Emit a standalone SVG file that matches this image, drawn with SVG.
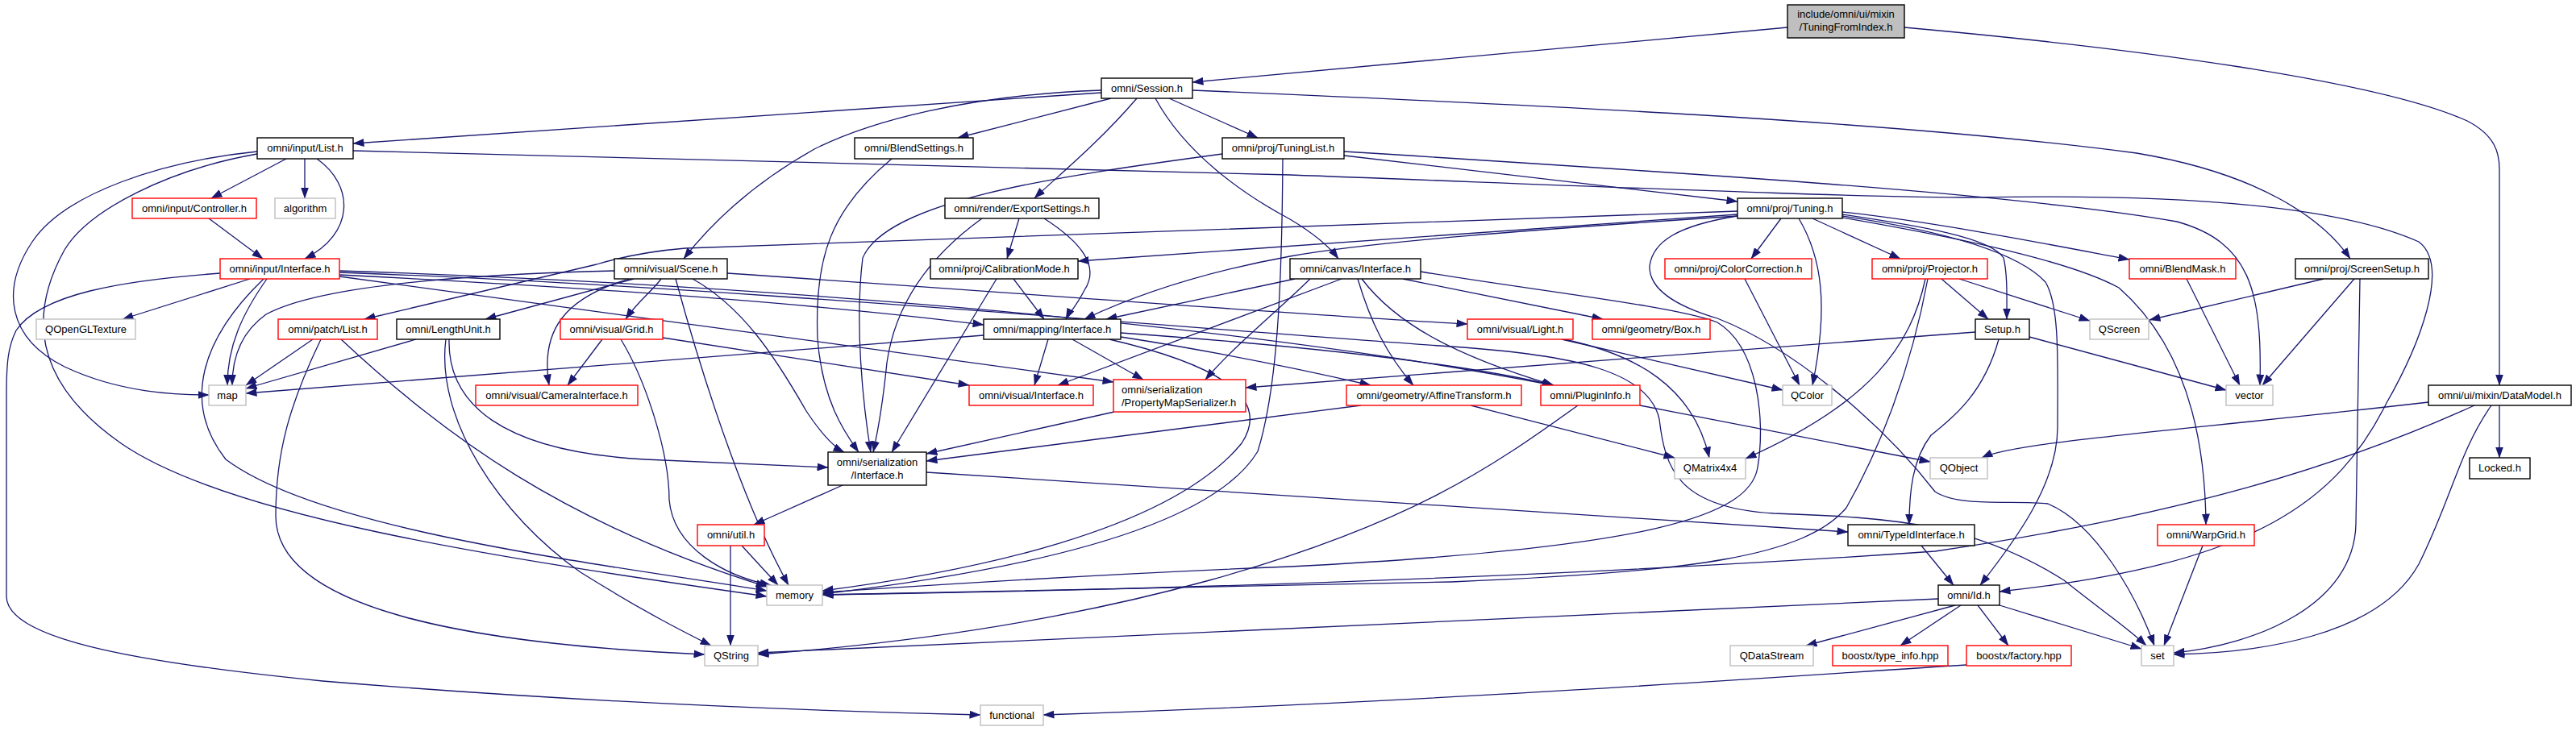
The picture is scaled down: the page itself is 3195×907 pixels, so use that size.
<svg xmlns="http://www.w3.org/2000/svg" width="3195" height="907" viewBox="0 0 3195 907">
<style>
rect{fill:#ffffff;stroke-width:1.4}
.n rect{stroke:#000000}
.r rect{stroke:#ff0000}
.g rect{stroke:#bfbfbf}
.top rect{stroke:#000000;fill:#bfbfbf}
text{font-family:"Liberation Sans",Arial,sans-serif;font-size:13px;fill:#000000;text-anchor:middle}
.lt{text-anchor:start}
#edges path{fill:none;stroke:#191970;stroke-width:1.3;marker-end:url(#arr)}
</style>
<defs>
<marker id="arr" markerUnits="userSpaceOnUse" markerWidth="14" markerHeight="10" refX="13.5" refY="5" orient="auto">
<path d="M0,0 L14,5 L0,10 z" fill="#191970"/>
</marker>
</defs>
<rect x="0" y="0" width="3195" height="907" style="fill:#ffffff;stroke:none"/>
<g id="edges">
<path d="M2217,34 L1479,102"/>
<path d="M2362,34 C2650,60 2950,100 3060,150 C3095,168 3100,190 3100,210 L3100,478"/>
<path d="M1366,115 L438,178"/>
<path d="M1378,122 L1188,171"/>
<path d="M1450,122 L1560,171"/>
<path d="M1410,122 C1360,180 1310,220 1283,246"/>
<path d="M1366,112 C1200,118 1080,150 1010,185 C930,230 880,280 848,321"/>
<path d="M1433,122 C1470,190 1540,240 1600,272 C1630,290 1648,305 1660,321"/>
<path d="M1479,112 C1900,130 2350,150 2650,190 C2800,215 2880,270 2915,321"/>
<path d="M355,197 L262,246"/>
<path d="M378,197 L378,246"/>
<path d="M393,197 C440,230 440,290 378,321"/>
<path d="M259,271 L326,321"/>
<path d="M319,188 C200,200 80,240 40,300 C0,360 10,420 80,455 C150,488 220,490 259,490"/>
<path d="M319,191 C210,210 110,260 80,310 C30,400 50,480 150,550 C280,640 600,690 951,740"/>
<path d="M273,339 C150,348 50,365 20,410 C10,430 8,450 8,490 L8,740 C8,790 150,820 400,845 C700,870 1000,882 1216,887"/>
<path d="M310,346 L152,396"/>
<path d="M331,346 C300,390 282,430 282,478"/>
<path d="M327,346 C250,420 225,500 280,570 C400,660 750,700 951,733"/>
<path d="M421,341 C700,355 1000,375 1220,403"/>
<path d="M421,343 L1381,474"/>
<path d="M421,336 C900,352 1500,395 1926,478"/>
<path d="M421,338 C900,355 1500,410 1800,430 C1950,440 2045,460 2058,520 C2065,580 2080,630 2200,637 C2350,642 2450,650 2560,720 C2610,760 2640,780 2662,801"/>
<path d="M2155,268 C2080,280 2050,300 2046,330 C2045,360 2080,380 2130,395 C2220,430 2330,520 2400,610 C2430,630 2500,620 2540,625 C2600,650 2650,740 2672,801"/>
<path d="M1762,337 C1900,360 2080,380 2130,400 C2180,430 2190,520 2180,580 C2170,640 2050,680 1600,703 C1300,715 1100,730 1020,735"/>
<path d="M1606,346 L1372,396"/>
<path d="M1664,346 L1312,478"/>
<path d="M1625,346 C1580,390 1530,430 1495,471"/>
<path d="M1684,346 C1700,400 1720,440 1753,478"/>
<path d="M1689,346 C1730,400 1800,440 1927,478"/>
<path d="M1740,346 L1988,396"/>
<path d="M1937,421 L2211,484"/>
<path d="M1940,421 C2030,440 2100,480 2120,568"/>
<path d="M2164,346 L2232,478"/>
<path d="M2231,271 C2260,320 2268,380 2248,478"/>
<path d="M2209,271 L2172,321"/>
<path d="M2248,271 L2357,321"/>
<path d="M2285,263 C2400,275 2550,305 2641,322"/>
<path d="M2285,266 C2380,280 2470,295 2485,320 C2490,340 2489,370 2489,396"/>
<path d="M2285,268 C2400,285 2500,310 2537,350 C2555,380 2552,450 2552,530 C2552,600 2500,670 2456,726"/>
<path d="M2285,270 C2400,290 2560,320 2628,357 C2700,420 2735,520 2736,651"/>
<path d="M2155,266 L1337,324"/>
<path d="M2155,268 C1900,285 1700,300 1600,318 C1480,340 1400,370 1345,396"/>
<path d="M2155,262 L850,308 Q790,313 740,328 L452,396"/>
<path d="M762,336 C600,340 400,352 330,390 C295,415 288,450 288,478"/>
<path d="M786,346 L602,396"/>
<path d="M820,346 C810,360 790,375 776,396"/>
<path d="M780,346 C700,370 670,410 681,478"/>
<path d="M859,346 C920,380 960,440 1000,510 C1020,540 1035,555 1047,561"/>
<path d="M838,346 C880,500 930,640 978,726"/>
<path d="M902,339 C1300,366 1600,390 1820,402"/>
<path d="M822,419 L1202,478"/>
<path d="M747,421 L704,478"/>
<path d="M770,421 C800,470 830,560 830,620 C835,680 900,715 956,726"/>
<path d="M516,421 L305,482"/>
<path d="M553,421 C540,520 620,640 720,710 C800,760 850,785 882,801"/>
<path d="M557,421 C555,500 620,560 800,570 C900,575 980,578 1027,580"/>
<path d="M388,421 L305,478"/>
<path d="M398,421 C360,500 342,560 342,640 C342,760 600,800 874,812"/>
<path d="M423,421 C550,540 700,650 951,728"/>
<path d="M1300,421 L1283,478"/>
<path d="M1330,421 L1418,471"/>
<path d="M1220,416 L305,488"/>
<path d="M1376,421 C1500,450 1580,490 1540,550 C1450,660 1200,710 1020,733"/>
<path d="M1390,418 C1500,435 1600,455 1700,478"/>
<path d="M1390,413 C1600,428 1800,448 1927,478"/>
<path d="M1264,271 L1249,321"/>
<path d="M1295,271 C1340,300 1365,330 1345,360 C1335,380 1325,390 1322,396"/>
<path d="M1218,271 C1150,320 1110,380 1100,450 C1095,500 1090,530 1083,561"/>
<path d="M1257,346 L1295,396"/>
<path d="M1236,346 L1106,561"/>
<path d="M1106,197 C1030,260 1010,320 1014,420 C1020,500 1050,540 1065,561"/>
<path d="M1516,191 C1300,220 1100,250 1070,320 C1060,400 1070,500 1080,561"/>
<path d="M1667,193 L2155,250"/>
<path d="M1667,188 C2100,215 2500,240 2700,275 C2790,300 2806,360 2803,478"/>
<path d="M1591,197 C1590,350 1585,480 1560,560 C1500,660 1250,710 1020,737"/>
<path d="M438,187 L1600,217 C2000,232 2300,245 2450,245 C2700,240 2900,255 3000,300 C3040,330 3000,430 2960,500 C2900,620 2800,700 2480,734"/>
<path d="M2882,346 L2666,397"/>
<path d="M2920,346 L2806,478"/>
<path d="M2927,346 L2922,650 C2920,750 2800,800 2696,810"/>
<path d="M2712,346 L2778,478"/>
<path d="M2517,418 L2761,484"/>
<path d="M2450,412 L1545,481"/>
<path d="M2479,421 C2460,490 2420,520 2395,540 C2372,570 2368,610 2368,651"/>
<path d="M2408,346 L2466,396"/>
<path d="M2430,346 L2592,398"/>
<path d="M2388,346 C2370,430 2320,500 2165,569"/>
<path d="M2391,346 C2370,460 2330,560 2290,630 C2240,690 2100,710 1800,722 C1500,730 1200,735 1020,738"/>
<path d="M1957,503 C1850,580 1750,650 1500,720 C1300,775 1100,800 940,812"/>
<path d="M2034,503 L2394,573"/>
<path d="M1688,503 L1149,572"/>
<path d="M1824,503 L2077,568"/>
<path d="M1382,511 L1149,563"/>
<path d="M1045,602 L935,651"/>
<path d="M1149,586 L2292,660"/>
<path d="M906,677 L906,801"/>
<path d="M920,677 L965,726"/>
<path d="M3012,499 C2700,535 2500,548 2458,568"/>
<path d="M3069,503 C2900,580 2700,640 2400,684 C2100,705 1600,730 1020,738"/>
<path d="M3090,503 C3050,560 3040,620 3000,700 C2950,790 2800,810 2696,812"/>
<path d="M3100,503 L3100,568"/>
<path d="M2732,677 L2684,801"/>
<path d="M2383,677 L2423,726"/>
<path d="M2404,743 L940,810"/>
<path d="M2425,751 L2240,801"/>
<path d="M2432,751 L2357,801"/>
<path d="M2453,751 L2491,801"/>
<path d="M2480,751 L2656,805"/>
<path d="M2439,825 C2200,840 1800,870 1294,887"/>
</g>
<g id="n_TuningFromIndex" class="top"><rect x="2217" y="6" width="145" height="41"/><text x="2289.5" y="22">include/omni/ui/mixin</text><text x="2289.5" y="38">/TuningFromIndex.h</text></g>
<g id="n_Session" class="n"><rect x="1366" y="97" width="113" height="25"/><text x="1422.5" y="114">omni/Session.h</text></g>
<g id="n_inputList" class="n"><rect x="319" y="171" width="119" height="26"/><text x="378.5" y="188">omni/input/List.h</text></g>
<g id="n_BlendSettings" class="n"><rect x="1060" y="171" width="147" height="26"/><text x="1133.5" y="188">omni/BlendSettings.h</text></g>
<g id="n_TuningList" class="n"><rect x="1516" y="171" width="151" height="26"/><text x="1591.5" y="188">omni/proj/TuningList.h</text></g>
<g id="n_Controller" class="r"><rect x="164" y="246" width="154" height="25"/><text x="241" y="263">omni/input/Controller.h</text></g>
<g id="n_algorithm" class="g"><rect x="341" y="246" width="75" height="25"/><text x="378.5" y="263">algorithm</text></g>
<g id="n_ExportSettings" class="n"><rect x="1172" y="246" width="191" height="25"/><text x="1267.5" y="263">omni/render/ExportSettings.h</text></g>
<g id="n_Tuning" class="n"><rect x="2155" y="246" width="130" height="25"/><text x="2220" y="263">omni/proj/Tuning.h</text></g>
<g id="n_inputInterface" class="r"><rect x="273" y="321" width="148" height="25"/><text x="347" y="338">omni/input/Interface.h</text></g>
<g id="n_Scene" class="n"><rect x="762" y="321" width="140" height="25"/><text x="832" y="338">omni/visual/Scene.h</text></g>
<g id="n_CalibrationMode" class="n"><rect x="1154" y="321" width="183" height="25"/><text x="1245.5" y="338">omni/proj/CalibrationMode.h</text></g>
<g id="n_canvasInterface" class="n"><rect x="1600" y="321" width="162" height="25"/><text x="1681" y="338">omni/canvas/Interface.h</text></g>
<g id="n_ColorCorrection" class="r"><rect x="2065" y="321" width="182" height="25"/><text x="2156" y="338">omni/proj/ColorCorrection.h</text></g>
<g id="n_Projector" class="r"><rect x="2322" y="321" width="143" height="25"/><text x="2393.5" y="338">omni/proj/Projector.h</text></g>
<g id="n_BlendMask" class="r"><rect x="2641" y="321" width="132" height="25"/><text x="2707" y="338">omni/BlendMask.h</text></g>
<g id="n_ScreenSetup" class="n"><rect x="2847" y="321" width="165" height="25"/><text x="2929.5" y="338">omni/proj/ScreenSetup.h</text></g>
<g id="n_QOpenGLTexture" class="g"><rect x="45" y="396" width="123" height="25"/><text x="106.5" y="413">QOpenGLTexture</text></g>
<g id="n_patchList" class="r"><rect x="345" y="396" width="123" height="25"/><text x="406.5" y="413">omni/patch/List.h</text></g>
<g id="n_LengthUnit" class="n"><rect x="492" y="396" width="128" height="25"/><text x="556" y="413">omni/LengthUnit.h</text></g>
<g id="n_Grid" class="r"><rect x="695" y="396" width="127" height="25"/><text x="758.5" y="413">omni/visual/Grid.h</text></g>
<g id="n_mappingInterface" class="n"><rect x="1220" y="396" width="170" height="25"/><text x="1305" y="413">omni/mapping/Interface.h</text></g>
<g id="n_Light" class="r"><rect x="1820" y="396" width="131" height="25"/><text x="1885.5" y="413">omni/visual/Light.h</text></g>
<g id="n_Box" class="r"><rect x="1975" y="396" width="146" height="25"/><text x="2048" y="413">omni/geometry/Box.h</text></g>
<g id="n_Setup" class="n"><rect x="2450" y="396" width="67" height="25"/><text x="2483.5" y="413">Setup.h</text></g>
<g id="n_QScreen" class="g"><rect x="2592" y="396" width="73" height="25"/><text x="2628.5" y="413">QScreen</text></g>
<g id="n_map" class="g"><rect x="259" y="478" width="46" height="25"/><text x="282" y="495">map</text></g>
<g id="n_CameraInterface" class="r"><rect x="590" y="478" width="201" height="25"/><text x="690.5" y="495">omni/visual/CameraInterface.h</text></g>
<g id="n_visualInterface" class="r"><rect x="1202" y="478" width="154" height="25"/><text x="1279" y="495">omni/visual/Interface.h</text></g>
<g id="n_PropertyMapSerializer" class="r"><rect x="1381" y="471" width="164" height="40"/><text class="lt" x="1391" y="488">omni/serialization</text><text class="lt" x="1391" y="504">/PropertyMapSerializer.h</text></g>
<g id="n_AffineTransform" class="r"><rect x="1670" y="478" width="217" height="25"/><text x="1778.5" y="495">omni/geometry/AffineTransform.h</text></g>
<g id="n_PluginInfo" class="r"><rect x="1911" y="478" width="123" height="25"/><text x="1972.5" y="495">omni/PluginInfo.h</text></g>
<g id="n_QColor" class="g"><rect x="2211" y="478" width="61" height="25"/><text x="2241.5" y="495">QColor</text></g>
<g id="n_vector" class="g"><rect x="2761" y="478" width="58" height="25"/><text x="2790" y="495">vector</text></g>
<g id="n_DataModel" class="n"><rect x="3012" y="478" width="177" height="25"/><text x="3100.5" y="495">omni/ui/mixin/DataModel.h</text></g>
<g id="n_serializationInterface" class="n"><rect x="1027" y="561" width="122" height="41"/><text x="1088" y="578">omni/serialization</text><text x="1088" y="594">/Interface.h</text></g>
<g id="n_QMatrix4x4" class="g"><rect x="2077" y="568" width="88" height="26"/><text x="2121" y="585">QMatrix4x4</text></g>
<g id="n_QObject" class="g"><rect x="2394" y="568" width="71" height="26"/><text x="2429.5" y="585">QObject</text></g>
<g id="n_Locked" class="n"><rect x="3063" y="568" width="75" height="26"/><text x="3100.5" y="585">Locked.h</text></g>
<g id="n_util" class="r"><rect x="865" y="651" width="83" height="26"/><text x="906.5" y="668">omni/util.h</text></g>
<g id="n_TypeIdInterface" class="n"><rect x="2292" y="651" width="157" height="26"/><text x="2370.5" y="668">omni/TypeIdInterface.h</text></g>
<g id="n_WarpGrid" class="r"><rect x="2676" y="651" width="120" height="26"/><text x="2736" y="668">omni/WarpGrid.h</text></g>
<g id="n_memory" class="g"><rect x="951" y="726" width="69" height="25"/><text x="985.5" y="743">memory</text></g>
<g id="n_Id" class="n"><rect x="2404" y="726" width="76" height="25"/><text x="2442" y="743">omni/Id.h</text></g>
<g id="n_QString" class="g"><rect x="874" y="801" width="66" height="25"/><text x="907" y="818">QString</text></g>
<g id="n_QDataStream" class="g"><rect x="2146" y="801" width="103" height="25"/><text x="2197.5" y="818">QDataStream</text></g>
<g id="n_type_info" class="r"><rect x="2273" y="801" width="143" height="25"/><text x="2344.5" y="818">boostx/type_info.hpp</text></g>
<g id="n_factory" class="r"><rect x="2439" y="801" width="130" height="25"/><text x="2504" y="818">boostx/factory.hpp</text></g>
<g id="n_set" class="g"><rect x="2656" y="801" width="40" height="25"/><text x="2676" y="818">set</text></g>
<g id="n_functional" class="g"><rect x="1216" y="875" width="78" height="25"/><text x="1255" y="892">functional</text></g>
</svg>
